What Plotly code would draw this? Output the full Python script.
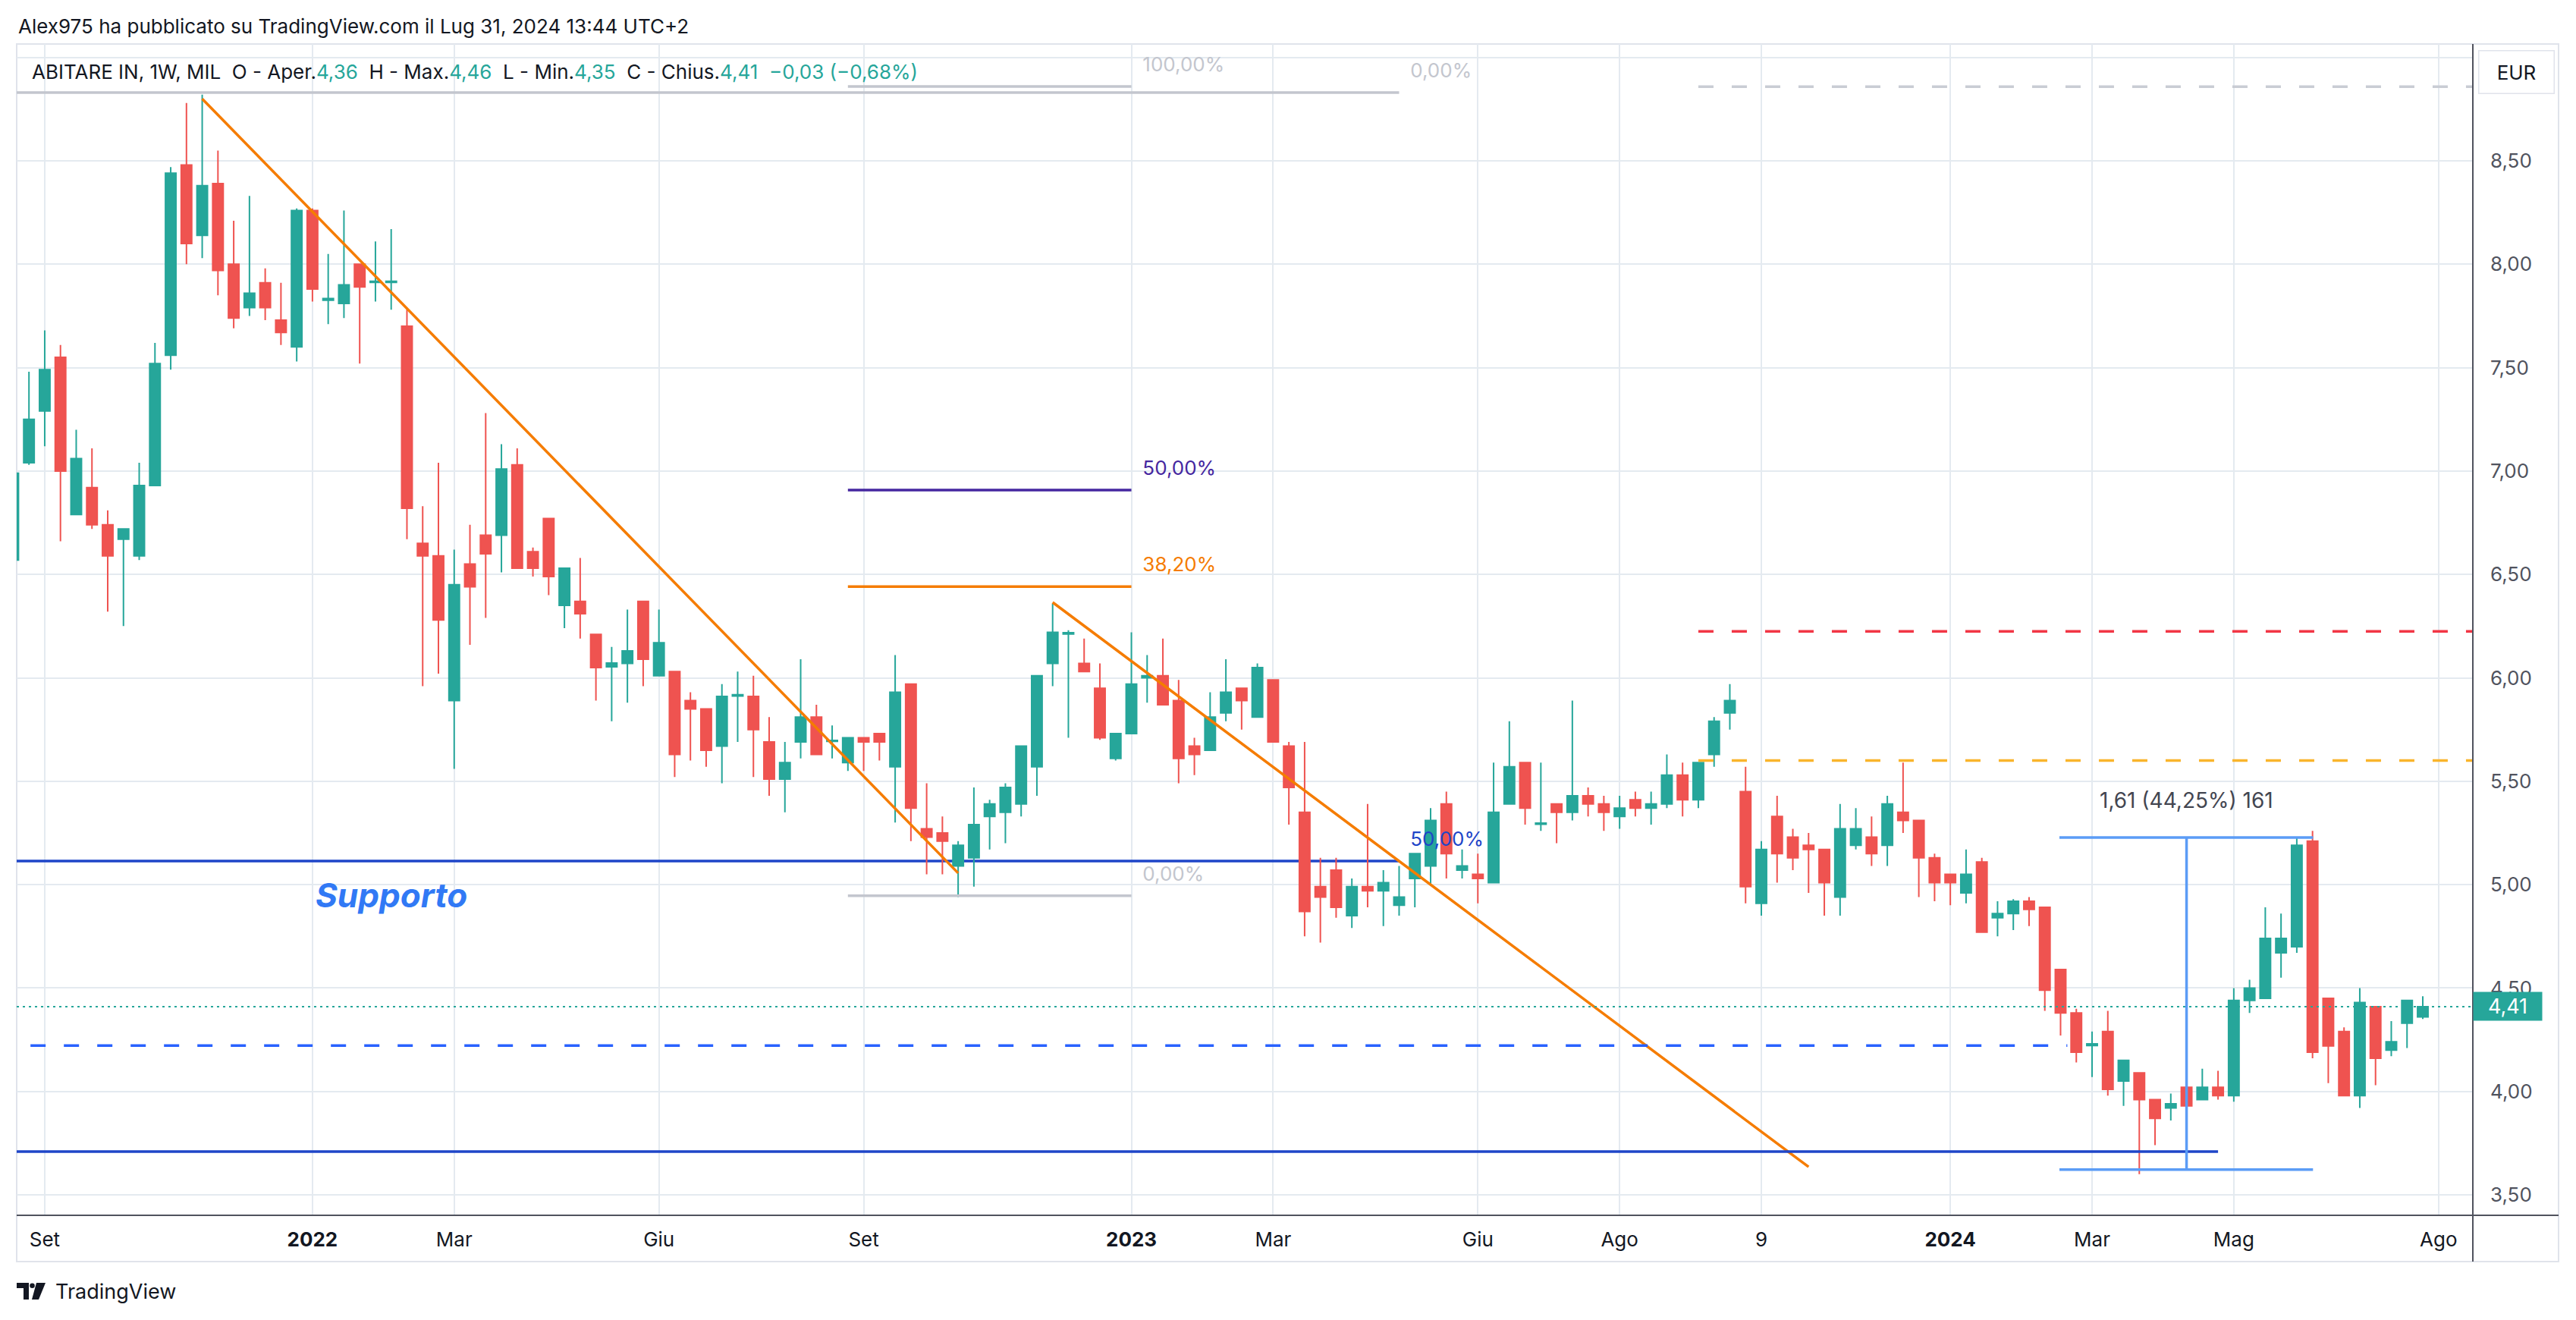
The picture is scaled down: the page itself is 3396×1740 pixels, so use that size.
import pandas as pd
import plotly.graph_objects as go

# ---------------- data (weekly candles, ABITARE IN, MIL) ----------------
FIRST_WEEK = "2021-08-23"
opens = [6.57, 7.04, 7.29, 7.55, 6.79, 6.92, 6.74, 6.67, 6.59, 6.93,
         7.56, 8.48, 8.14, 8.39, 8.00, 7.79, 7.91, 7.73, 7.60, 8.26,
         7.826, 7.81, 8.00, 7.912, 7.912, 7.70, 6.65, 6.59, 5.89, 6.55,
         6.69, 6.69, 7.03, 6.61, 6.77, 6.35, 6.37, 6.21, 6.053, 6.07,
         6.37, 6.01, 6.03, 5.89, 5.85, 5.67, 5.912, 5.91, 5.69, 5.51,
         5.69, 5.81, 5.693, 5.59, 5.71, 5.73, 5.57, 5.97, 5.27, 5.25,
         5.09, 5.13, 5.33, 5.35, 5.39, 5.57, 6.07, 6.212, 6.07, 5.95,
         5.61, 5.73, 6.00, 6.01, 5.89, 5.67, 5.65, 5.83, 5.95, 5.81,
         5.99, 5.67, 5.35, 4.99, 5.07, 4.85, 4.99, 4.97, 4.90, 5.03,
         5.09, 5.39, 5.07, 5.05, 5.01, 5.39, 5.59, 5.292, 5.39, 5.35,
         5.43, 5.39, 5.33, 5.41, 5.37, 5.39, 5.53, 5.41, 5.63, 5.83,
         5.45, 4.91, 5.33, 5.23, 5.19, 5.17, 4.94, 5.19, 5.23, 5.19,
         5.35, 5.31, 5.13, 5.05, 4.96, 5.11, 4.84, 4.86, 4.92, 4.89,
         4.59, 4.38, 4.222, 4.29, 4.05, 4.09, 3.96, 3.92, 4.02, 3.96,
         4.02, 3.98, 4.44, 4.45, 4.67, 4.70, 5.21, 4.45, 4.29, 3.98,
         4.41, 4.20, 4.33, 4.36]
highs = [7.05, 7.48, 7.68, 7.61, 7.20, 7.11, 6.81, 6.72, 7.04, 7.62,
         8.47, 8.78, 8.82, 8.55, 8.21, 8.33, 7.98, 7.91, 8.27, 8.27,
         8.05, 8.26, 8.00, 8.11, 8.17, 7.78, 6.83, 7.04, 6.62, 6.74,
         7.28, 7.13, 7.11, 6.63, 6.77, 6.53, 6.58, 6.21, 6.15, 6.33,
         6.37, 6.33, 6.03, 5.93, 5.85, 5.97, 6.03, 6.01, 5.81, 5.69,
         6.09, 5.87, 5.77, 5.71, 5.71, 5.73, 6.11, 5.97, 5.49, 5.33,
         5.21, 5.47, 5.41, 5.49, 5.67, 6.01, 6.36, 6.23, 6.19, 6.07,
         5.73, 6.22, 6.11, 6.19, 5.99, 5.71, 5.93, 6.09, 5.95, 6.07,
         5.99, 5.69, 5.69, 5.13, 5.13, 5.03, 5.39, 5.07, 5.09, 5.15,
         5.37, 5.45, 5.17, 5.15, 5.59, 5.79, 5.59, 5.59, 5.39, 5.89,
         5.47, 5.43, 5.43, 5.45, 5.45, 5.63, 5.59, 5.59, 5.81, 5.97,
         5.57, 5.21, 5.43, 5.27, 5.25, 5.17, 5.39, 5.37, 5.33, 5.43,
         5.59, 5.31, 5.15, 5.05, 5.17, 5.13, 4.92, 4.93, 4.94, 4.89,
         4.59, 4.40, 4.29, 4.39, 4.15, 4.09, 3.96, 3.99, 4.02, 4.11,
         4.10, 4.50, 4.54, 4.89, 4.86, 5.23, 5.26, 4.45, 4.31, 4.50,
         4.41, 4.34, 4.44, 4.46]
lows = [6.50, 7.03, 7.12, 6.66, 6.79, 6.72, 6.32, 6.25, 6.57, 6.93,
        7.49, 8.00, 8.03, 7.85, 7.69, 7.75, 7.73, 7.61, 7.53, 7.82,
        7.71, 7.74, 7.52, 7.82, 7.78, 6.67, 5.96, 6.02, 5.56, 6.16,
        6.29, 6.51, 6.53, 6.49, 6.40, 6.24, 6.19, 5.89, 5.79, 5.88,
        5.96, 6.01, 5.52, 5.60, 5.57, 5.49, 5.69, 5.52, 5.43, 5.35,
        5.61, 5.63, 5.61, 5.55, 5.55, 5.60, 5.30, 5.21, 5.05, 5.05,
        4.94, 4.99, 5.17, 5.20, 5.33, 5.43, 5.96, 5.71, 6.03, 5.70,
        5.60, 5.73, 5.88, 5.87, 5.49, 5.53, 5.65, 5.79, 5.75, 5.81,
        5.69, 5.29, 4.75, 4.72, 4.84, 4.79, 4.89, 4.80, 4.85, 4.89,
        5.00, 5.03, 5.03, 4.91, 5.01, 5.39, 5.29, 5.26, 5.20, 5.31,
        5.33, 5.26, 5.27, 5.33, 5.29, 5.37, 5.33, 5.37, 5.57, 5.75,
        4.91, 4.85, 5.01, 5.07, 4.96, 4.85, 4.85, 5.17, 5.09, 5.09,
        5.25, 4.94, 4.92, 4.90, 4.91, 4.77, 4.75, 4.78, 4.80, 4.39,
        4.27, 4.14, 4.07, 3.98, 3.93, 3.60, 3.74, 3.86, 3.88, 3.96,
        3.96, 3.95, 4.38, 4.45, 4.55, 4.67, 4.16, 4.04, 3.98, 3.92,
        4.03, 4.17, 4.21, 4.35]
closes = [6.99, 7.25, 7.49, 7.00, 7.06, 6.74, 6.59, 6.72, 6.93, 7.52,
          8.44, 8.10, 8.38, 7.97, 7.74, 7.86, 7.79, 7.67, 8.26, 7.88,
          7.834, 7.90, 7.89, 7.918, 7.918, 6.82, 6.59, 6.28, 6.45, 6.44,
          6.60, 7.01, 6.53, 6.53, 6.49, 6.53, 6.31, 6.05, 6.072, 6.13,
          6.09, 6.17, 5.63, 5.85, 5.65, 5.91, 5.918, 5.75, 5.51, 5.59,
          5.81, 5.63, 5.697, 5.71, 5.69, 5.69, 5.93, 5.37, 5.23, 5.21,
          5.19, 5.29, 5.39, 5.47, 5.67, 6.01, 6.22, 6.218, 6.03, 5.71,
          5.73, 5.97, 6.01, 5.87, 5.61, 5.63, 5.81, 5.93, 5.89, 6.05,
          5.69, 5.47, 4.87, 4.94, 4.89, 4.99, 4.97, 5.01, 4.94, 5.15,
          5.31, 5.15, 5.09, 5.03, 5.35, 5.57, 5.37, 5.298, 5.35, 5.43,
          5.39, 5.35, 5.37, 5.37, 5.39, 5.53, 5.41, 5.59, 5.79, 5.89,
          4.99, 5.17, 5.15, 5.13, 5.17, 5.01, 5.27, 5.27, 5.15, 5.39,
          5.31, 5.13, 5.01, 5.01, 5.05, 4.77, 4.86, 4.92, 4.88, 4.49,
          4.38, 4.19, 4.230, 4.01, 4.15, 3.96, 3.87, 3.94, 3.93, 4.02,
          3.98, 4.44, 4.50, 4.74, 4.74, 5.19, 4.19, 4.22, 3.98, 4.43,
          4.16, 4.24, 4.44, 4.41]

dates = pd.date_range(FIRST_WEEK, periods=len(opens), freq="7D")

tick_dates = ["2021-09-06", "2022-01-03", "2022-03-07", "2022-06-06", "2022-09-05",
              "2023-01-02", "2023-03-06", "2023-06-05", "2023-08-07", "2023-10-09",
              "2024-01-01", "2024-03-04", "2024-05-06", "2024-08-05"]
tick_labels = ["Set", "<b>2022</b>", "Mar", "Giu", "Set", "<b>2023</b>", "Mar", "Giu",
               "Ago", "9", "<b>2024</b>", "Mar", "Mag", "Ago"]
price_ticks = [3.5, 4.0, 4.5, 5.0, 5.5, 6.0, 6.5, 7.0, 7.5, 8.0, 8.5, 9.0]

x_view = ["2021-08-24 13:00", "2024-08-20 06:00"]
y_view = [3.401, 9.065]

# drawings (dates, prices)
trend_starts = [("2021-11-15", 8.80), ("2022-11-28", 6.365)]
trend_ends = [("2022-10-17", 5.056), ("2023-10-30", 3.635)]

fib_small_span = ["2022-08-29", "2023-01-02"]
fib_small_levels = [8.86, 6.908, 6.441, 4.946]
fib_small_labels = ["100,00%", "50,00%", "38,20%", "0,00%"]

fib_big_span = ["2021-08-01", "2023-05-01"]
fib_big_levels = [8.83, 5.114]
fib_big_labels = ["0,00%", "50,00%"]

support_low = 3.709
support_low_end = "2024-04-29"
support_dash = 4.222
support_dash_end = "2024-02-22"
resist_levels = [8.859, 6.225, 5.600]
resist_start = "2023-09-11"

measure_x = ["2024-02-18 12:00", "2024-06-10 05:00"]
measure_arrow_x = "2024-04-15"
measure_prices = [3.622, 5.228]
measure_text = "1,61 (44,25%) 161"

# ---------------- styles ----------------
GREEN = "#26a69a"
RED = "#ef5350"
GRID = "#e4eaf0"
FONT = "Inter, Roboto, sans-serif"
TXT = "#131722"
AXIS_TXT = "#50535e"
FIB_GRAY = "#c3c6ce"
INDIGO = "#4527a0"
ORANGE = "#f57c00"
DARK_BLUE = "#1e45c8"
BLUE = "#2962ff"
MEASURE = "#5b9cf6"

L, R, T, B = 22, 3260, 58, 1602
W, H = R - L, B - T


def PX(x):
    return (x - L) / W


def PY(y):
    return (B - y) / H


def fmt(v):
    return f"{v:.2f}".replace(".", ",")


def shift_date(d, days):
    return (pd.Timestamp(d) + pd.Timedelta(days=days)).strftime("%Y-%m-%d %H:%M")


fig = go.Figure()

# fib labels (drawn under candles)
lab_x, lab_y, lab_t, lab_c = [], [], [], []
for lv, tx, col in zip(fib_small_levels, fib_small_labels, [FIB_GRAY, INDIGO, ORANGE, FIB_GRAY]):
    lab_x.append(shift_date(fib_small_span[1], 5))
    lab_y.append(lv + 0.098)
    lab_t.append(tx)
    lab_c.append(col)
for lv, tx, col in zip(fib_big_levels, fib_big_labels, [FIB_GRAY, DARK_BLUE]):
    lab_x.append(shift_date(fib_big_span[1], 5))
    lab_y.append(lv + 0.098)
    lab_t.append(tx)
    lab_c.append(col)
fig.add_trace(go.Scatter(x=lab_x, y=lab_y, text=lab_t, mode="text",
                         textposition="middle right",
                         textfont=dict(family=FONT, size=26, color=lab_c),
                         hoverinfo="skip", showlegend=False))

fig.add_trace(go.Candlestick(
    x=dates, open=opens, high=highs, low=lows, close=closes,
    increasing=dict(line=dict(color=GREEN, width=2), fillcolor=GREEN),
    decreasing=dict(line=dict(color=RED, width=2), fillcolor=RED),
    whiskerwidth=0, hoverinfo="skip", showlegend=False))

shapes = []
# big fib lines (behind candles)
for lv, col in zip(fib_big_levels, [FIB_GRAY, DARK_BLUE]):
    shapes.append(dict(type="line", xref="x", yref="y", x0=fib_big_span[0], x1=fib_big_span[1],
                       y0=lv, y1=lv, line=dict(color=col, width=3.5), layer="between"))
# small fib lines
for lv, col in zip(fib_small_levels, [FIB_GRAY, INDIGO, ORANGE, FIB_GRAY]):
    shapes.append(dict(type="line", xref="x", yref="y", x0=fib_small_span[0], x1=fib_small_span[1],
                       y0=lv, y1=lv, line=dict(color=col, width=3.5)))
# trend lines
for (xa, ya), (xb, yb) in zip(trend_starts, trend_ends):
    shapes.append(dict(type="line", xref="x", yref="y", x0=xa, y0=ya, x1=xb, y1=yb,
                       line=dict(color=ORANGE, width=3.5)))
# supports
shapes.append(dict(type="line", xref="x", yref="y", x0="2021-08-01", x1=support_low_end,
                   y0=support_low, y1=support_low, line=dict(color=DARK_BLUE, width=3.5)))
shapes.append(dict(type="line", xref="x", yref="y", x0="2021-08-01", x1=support_dash_end,
                   y0=support_dash, y1=support_dash, line=dict(color=BLUE, width=3.5, dash="20px,24px")))
# resistances
for lv, col in zip(resist_levels, ["#c9ccd4", "#f23645", "#f9b52c"]):
    shapes.append(dict(type="line", xref="x", yref="y", x0=resist_start, x1="2024-09-30",
                       y0=lv, y1=lv, line=dict(color=col, width=3.5, dash="20px,24px")))
# current price dotted line
shapes.append(dict(type="line", xref="paper", yref="y", x0=0, x1=1, y0=closes[-1], y1=closes[-1],
                   line=dict(color=GREEN, width=2, dash="3px,5px")))
# measure tool
for p in measure_prices:
    shapes.append(dict(type="line", xref="x", yref="y", x0=measure_x[0], x1=measure_x[1],
                       y0=p, y1=p, line=dict(color=MEASURE, width=3.5)))
shapes.append(dict(type="line", xref="x", yref="y", x0=measure_arrow_x, x1=measure_arrow_x,
                   y0=measure_prices[0], y1=measure_prices[1], line=dict(color=MEASURE, width=3.5)))
shapes.append(dict(type="path", xref="x", yref="y",
                   path=f"M {shift_date(measure_arrow_x, -8)} {measure_prices[1] - 0.08} "
                        f"L {shift_date(measure_arrow_x, 0)} {measure_prices[1]} "
                        f"L {shift_date(measure_arrow_x, 8)} {measure_prices[1] - 0.08}",
                   line=dict(color=MEASURE, width=3.5)))

# pane frame / axis lines
shapes.append(dict(type="rect", xref="paper", yref="paper", x0=PX(22), x1=PX(3373),
                   y0=PY(1663), y1=PY(58), line=dict(color="#e0e3eb", width=2), layer="below"))
shapes.append(dict(type="line", xref="paper", yref="paper", x0=PX(22), x1=PX(3373),
                   y0=0, y1=0, line=dict(color="#50535e", width=2)))
shapes.append(dict(type="line", xref="paper", yref="paper", x0=1, x1=1,
                   y0=PY(1663), y1=1, line=dict(color="#50535e", width=2)))


# TradingView logo
def pth(points):
    return "M " + " L ".join(f"{PX(x):.6f},{PY(y):.6f}" for x, y in points) + " Z"


shapes.append(dict(type="path", xref="paper", yref="paper",
                   path=pth([(22, 1691), (38, 1691), (38, 1713), (31, 1713), (31, 1698), (22, 1698)]),
                   fillcolor=TXT, line=dict(width=0)))
shapes.append(dict(type="path", xref="paper", yref="paper",
                   path=pth([(48, 1691), (60, 1691), (51, 1713), (42, 1713)]),
                   fillcolor=TXT, line=dict(width=0)))
shapes.append(dict(type="circle", xref="paper", yref="paper",
                   x0=PX(39.2), x1=PX(45.8), y0=PY(1698), y1=PY(1691.4),
                   fillcolor=TXT, line=dict(width=0)))

annotations = []
annotations.append(dict(xref="paper", yref="paper", x=PX(22), y=PY(35), xanchor="left", yanchor="middle",
                        text="Alex975 ha pubblicato su TradingView.com il Lug 31, 2024 13:44 UTC+2",
                        showarrow=False, font=dict(family=FONT, size=26, color=TXT)))
chg = closes[-1] - closes[-2]
pct = chg / closes[-2] * 100
g = lambda s: f"<span style='color:{GREEN}'>{s}</span>"
sp = "\u00a0\u00a0"
legend_txt = ("ABITARE IN, 1W, MIL" + sp + "O - Aper." + g(fmt(opens[-1])) + sp + "H - Max." + g(fmt(highs[-1]))
              + sp + "L - Min." + g(fmt(lows[-1])) + sp + "C - Chius." + g(fmt(closes[-1])) + sp
              + g(f"{fmt(chg).replace('-', '−')} ({fmt(pct).replace('-', '−')}%)"))
annotations.append(dict(xref="paper", yref="paper", x=PX(40), y=PY(95), xanchor="left", yanchor="middle",
                        text=legend_txt, showarrow=False, font=dict(family=FONT, size=26, color=TXT)))
annotations.append(dict(xref="paper", yref="paper", x=PX(3317), y=PY(95.5), xanchor="center", yanchor="middle",
                        text="EUR", showarrow=False, width=90, height=47, borderpad=4,
                        bordercolor="#e0e3eb", borderwidth=1.5, bgcolor="white",
                        font=dict(family=FONT, size=26, color=TXT)))
annotations.append(dict(xref="paper", yref="y", x=1, y=closes[-1], xanchor="left", yanchor="middle",
                        text=fmt(closes[-1]), showarrow=False, width=82, height=29, borderpad=4,
                        bgcolor=GREEN, font=dict(family=FONT, size=27, color="white")))
annotations.append(dict(xref="x", yref="y", x="2022-02-07", y=4.95, xanchor="center", yanchor="middle",
                        text="<b><i>Supporto</i></b>", showarrow=False,
                        font=dict(family=FONT, size=44, color="#3179f5")))
annotations.append(dict(xref="x", yref="y", x=measure_arrow_x, y=measure_prices[1], xanchor="center",
                        yanchor="bottom", yshift=30, text=measure_text, showarrow=False,
                        font=dict(family=FONT, size=28, color="#434651")))
annotations.append(dict(xref="paper", yref="paper", x=PX(71), y=PY(1702), xanchor="left", yanchor="middle",
                        text="TradingView", showarrow=False, font=dict(family=FONT, size=27, color=TXT)))

fig.update_layout(
    width=3396, height=1740,
    margin=dict(l=L, r=3396 - R, t=T, b=1740 - B, pad=0, autoexpand=False),
    paper_bgcolor="white", plot_bgcolor="white",
    showlegend=False, hovermode=False,
    boxgap=0.33, boxgroupgap=0,
    shapes=shapes, annotations=annotations,
    xaxis=dict(type="date", range=x_view, rangeslider=dict(visible=False),
               tickvals=tick_dates, ticktext=tick_labels, showgrid=True, gridcolor=GRID, gridwidth=2,
               zeroline=False, showline=False, ticks="", ticklabelstandoff=14, automargin=False,
               tickfont=dict(family=FONT, size=26, color=TXT)),
    yaxis=dict(range=y_view, side="right", tickvals=price_ticks,
               ticktext=[fmt(v) if v < 9 else "" for v in price_ticks],
               showgrid=True, gridcolor=GRID, gridwidth=2, zeroline=False, showline=False,
               ticks="", ticklabelstandoff=22, automargin=False,
               tickfont=dict(family=FONT, size=26, color=AXIS_TXT)),
)

fig.write_html("out.html", config={"displayModeBar": False},
               post_script="document.body.style.margin='0';document.body.style.overflow='hidden';")
